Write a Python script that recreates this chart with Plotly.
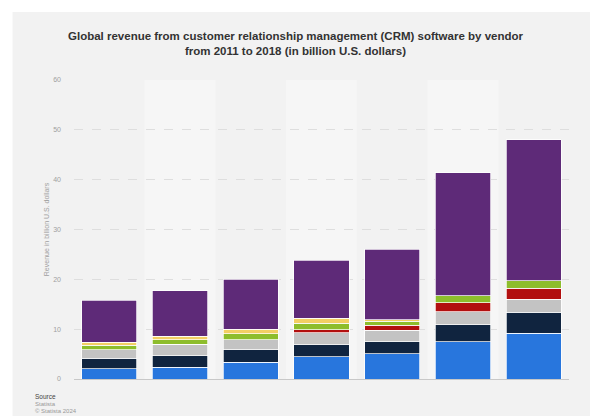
import plotly.graph_objects as go

# ---- data ----
years = ["2011", "2012", "2013", "2014", "2015", "2017", "2018"]
salesforce = [2.05, 2.4, 3.35, 4.45, 5.1, 7.5, 9.2]
sap = [2.1, 2.3, 2.5, 2.4, 2.45, 3.35, 4.2]
oracle = [1.75, 2.25, 2.05, 2.45, 2.25, 2.6, 2.65]
adobe = [0.0, 0.0, 0.0, 0.55, 0.95, 1.9, 2.2]
microsoft = [0.9, 0.9, 1.2, 1.3, 0.85, 1.4, 1.45]
amdocs = [0.6, 0.75, 0.85, 1.0, 0.25, 0.0, 0.0]
others = [8.4, 9.1, 10.1, 11.7, 14.15, 24.65, 28.3]
y_ticks = [0, 10, 20, 30, 40, 50, 60]

series = [
    ("Salesforce", salesforce, "#2876dd"),
    ("SAP", sap, "#10243f"),
    ("Oracle", oracle, "#c3c3c3"),
    ("Adobe", adobe, "#b20f0f"),
    ("Microsoft", microsoft, "#8dbd2c"),
    ("Amdocs", amdocs, "#f2cf63"),
    ("Others", others, "#5e2a78"),
]

W, H = 590, 416
L, R, T, B = 74, 569.5, 80, 379


def px(x):
    return (x - L) / (R - L)


def py(y):
    return (B - y) / (B - T)


fig = go.Figure()
for name, vals, col in series:
    fig.add_trace(go.Bar(
        x=years, y=vals, name=name,
        marker=dict(color=col, line=dict(color="rgba(255,255,255,0.9)", width=0.8)),
    ))

shapes = []
# white frame strips (top and left)
shapes.append(dict(type="rect", xref="paper", yref="paper", x0=px(-5), x1=px(600),
                   y0=py(12), y1=py(-5), fillcolor="white", line=dict(width=0), layer="below"))
shapes.append(dict(type="rect", xref="paper", yref="paper", x0=px(-5), x1=px(12.5),
                   y0=py(420), y1=py(-5), fillcolor="white", line=dict(width=0), layer="below"))
# alternating column stripes
for i in (1, 3, 5):
    shapes.append(dict(type="rect", xref="x", yref="paper", x0=i - 0.5, x1=i + 0.5,
                       y0=0, y1=1, fillcolor="#f6f6f6", line=dict(width=0), layer="below"))

annotations = [
    dict(text="<b>Global revenue from customer relationship management (CRM) software by vendor</b><br>"
              "<b>from 2011 to 2018 (in billion U.S. dollars)</b>",
         xref="paper", yref="paper", x=px(296), y=py(43.5), xanchor="center", yanchor="middle",
         showarrow=False, font=dict(family="Liberation Sans, Arial", size=11.5, color="#333333"),
         align="center"),
    dict(text="Source", xref="paper", yref="paper", x=px(33), y=py(396), xanchor="left",
         yanchor="middle", showarrow=False,
         font=dict(family="Liberation Sans, Arial", size=6.5, color="#444444")),
    dict(text="Statista", xref="paper", yref="paper", x=px(33), y=py(403.5), xanchor="left",
         yanchor="middle", showarrow=False,
         font=dict(family="Liberation Sans, Arial", size=6, color="#999999")),
    dict(text="© Statista 2024", xref="paper", yref="paper", x=px(33), y=py(410.5), xanchor="left",
         yanchor="middle", showarrow=False,
         font=dict(family="Liberation Sans, Arial", size=6, color="#999999")),
]

fig.update_layout(
    width=W, height=H,
    margin=dict(l=L, r=W - R, t=T, b=H - B, pad=0),
    barmode="stack", bargap=0.22,
    paper_bgcolor="#f2f2f2", plot_bgcolor="#f2f2f2",
    showlegend=False,
    shapes=shapes, annotations=annotations,
    font=dict(family="Liberation Sans, Arial", color="#999999"),
)
fig.update_xaxes(showticklabels=False, ticks="", showgrid=False, showline=True,
                 linecolor="#c8c8c8", linewidth=1, zeroline=False)
fig.update_yaxes(range=[0, 60], tickvals=y_ticks, ticktext=[str(v) for v in y_ticks],
                 showgrid=True, gridcolor="#dedede", griddash="dash", gridwidth=1,
                 zeroline=False, ticks="", ticklabelstandoff=12,
                 tickfont=dict(size=7, color="#a0a0a0"),
                 title=dict(text="Revenue in billion U.S. dollars", standoff=2,
                            font=dict(size=7, color="#a0a0a0")))

fig.write_html("out.html", config={"displayModeBar": False},
               post_script="document.body.style.margin='0';document.body.style.overflow='hidden';")
